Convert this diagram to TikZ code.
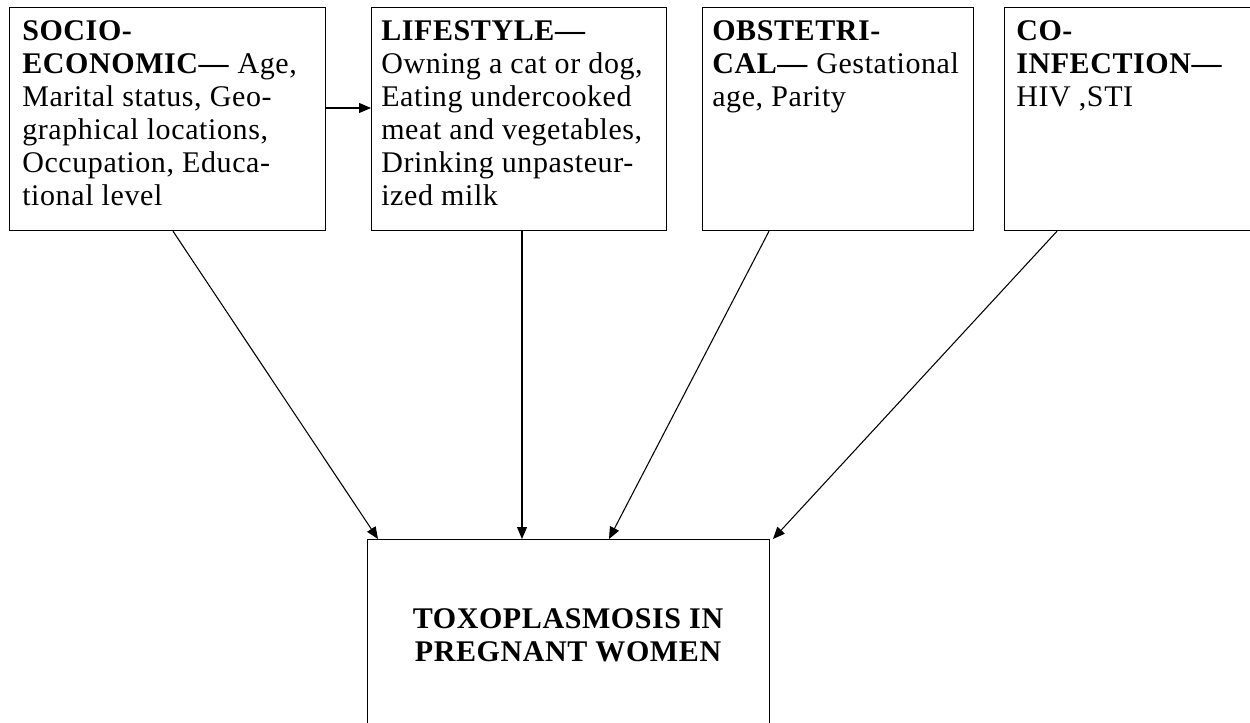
\documentclass[tikz,border=0pt]{standalone}
\usepackage{fontspec}
\setmainfont{Liberation Serif}[LetterSpace=2]
\usetikzlibrary{arrows.meta,calc}
\newcommand\tbl[1]{\begin{tabular}[t]{@{}l@{}}#1\end{tabular}}
\newcommand\tbc[1]{\begin{tabular}[t]{@{}c@{}}#1\end{tabular}}
\begin{document}
\begin{tikzpicture}[x=0.75pt,y=-0.75pt,
  box/.style={draw,line width=0.9pt,inner sep=0pt,anchor=north west},
  txt/.style={inner sep=0pt,anchor=base west,font=\fontsize{22.5}{24.75}\selectfont},
  arr/.style={draw,line width=0.8pt,-{Triangle[length=9pt,width=7.5pt]}}]
\useasboundingbox (0,0) rectangle (1250,723);
\clip (0,0) rectangle (1250,723);
\fill[white] (0,0) rectangle (1250,723);
% top boxes
\node[box,minimum width=237pt,minimum height=167.25pt] (b1) at (9,7) {};
\node[box,minimum width=221.25pt,minimum height=167.25pt] (b2) at (371,7) {};
\node[box,minimum width=203.25pt,minimum height=167.25pt] (b3) at (702,7) {};
\node[box,minimum width=202.5pt,minimum height=167.25pt] (b4) at (1004,7) {};
% bottom box
\node[box,minimum width=301.5pt,minimum height=150pt] (t) at (367,539) {};
% texts
\node[txt] (l1) at (22,41) {\tbl{\textbf{SOCIO-}\\\textbf{ECONOMIC—} Age,\\Marital status, Geo-\\graphical locations,\\Occupation, Educa-\\tional level}};
\node[txt] (l2) at (381,41) {\tbl{\textbf{LIFESTYLE—}\\Owning a cat or dog,\\Eating undercooked\\meat and vegetables,\\Drinking unpasteur-\\ized milk}};
\node[txt] (l3) at (712,41) {\tbl{\textbf{OBSTETRI-}\\\textbf{CAL—} Gestational\\age, Parity}};
\node[txt] (l4) at (1016,41) {\tbl{\textbf{CO-}\\\textbf{INFECTION—}\\HIV ,STI}};
\node[inner sep=0pt,anchor=base,font=\bfseries\fontsize{22.5}{24.75}\selectfont] (tt) at (568,628) {\tbc{TOXOPLASMOSIS IN\\PREGNANT WOMEN}};
% connectors
\draw[arr] ($(b1.north east)+(0,101)$) -- ($(b2.north west)+(0,101)$);
\draw[arr] ($(b1.south west)+(164,0)$) -- ($(t.north west)+(11,0)$);
\draw[arr] ($(b2.south west)+(151,0)$) -- ($(t.north west)+(155,0)$);
\draw[arr] ($(b3.south west)+(67,0)$) -- ($(t.north west)+(242,0)$);
\draw[arr] ($(b4.south west)+(53,0)$) -- ($(t.north west)+(406,0)$);
\end{tikzpicture}
\end{document}
